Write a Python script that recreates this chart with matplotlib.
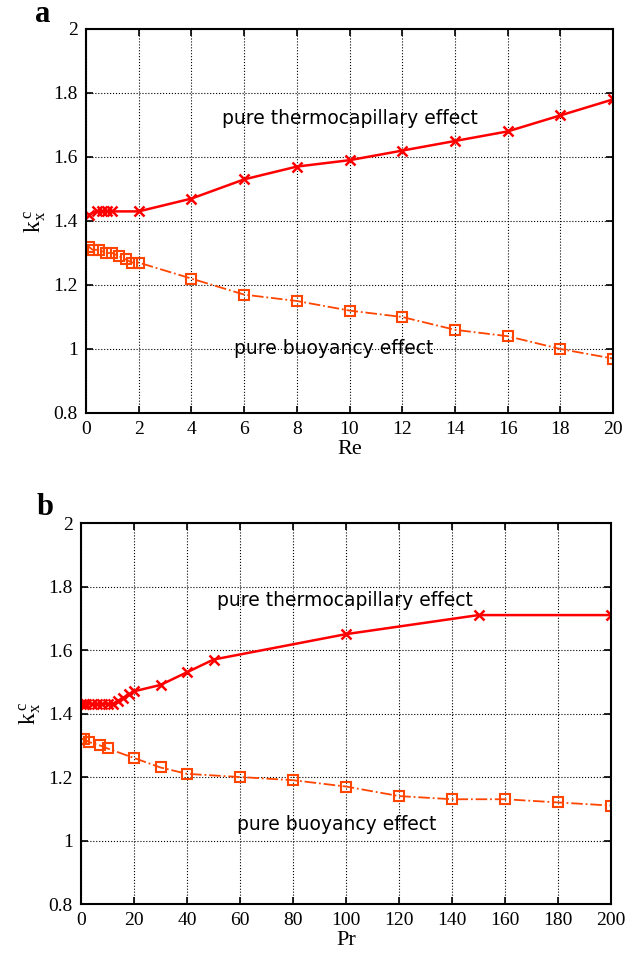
import numpy as np
import matplotlib.pyplot as plt

# panel a: wavenumber vs Re
re_thermo = [0.1, 0.4, 0.6, 0.8, 1.0, 2, 4, 6, 8, 10, 12, 14, 16, 18, 20]
k_thermo_re = [1.42, 1.43, 1.43, 1.43, 1.43, 1.43, 1.47, 1.53, 1.57, 1.59, 1.62, 1.65, 1.68, 1.73, 1.78]
re_buoy = [0.1, 0.25, 0.5, 0.75, 1.0, 1.25, 1.5, 1.75, 2.0, 4, 6, 8, 10, 12, 14, 16, 18, 20]
k_buoy_re = [1.32, 1.31, 1.31, 1.30, 1.30, 1.29, 1.28, 1.27, 1.27, 1.22, 1.17, 1.15, 1.12, 1.10, 1.06, 1.04, 1.00, 0.97]

# panel b: wavenumber vs Pr
pr_thermo = [0.1, 1, 2, 4, 6, 8, 10, 12, 14, 16, 18, 20, 30, 40, 50, 100, 150, 200]
k_thermo_pr = [1.43, 1.43, 1.43, 1.43, 1.43, 1.43, 1.43, 1.43, 1.44, 1.45, 1.46, 1.47, 1.49, 1.53, 1.57, 1.65, 1.71, 1.71]
pr_buoy = [0.1, 1, 3, 7, 10, 20, 30, 40, 60, 80, 100, 120, 140, 160, 180, 200]
k_buoy_pr = [1.32, 1.32, 1.31, 1.30, 1.29, 1.26, 1.23, 1.21, 1.20, 1.19, 1.17, 1.14, 1.13, 1.13, 1.12, 1.11]

red = '#ff0000'
orange = '#ff4500'
serif = 'Liberation Serif'

fig = plt.figure(figsize=(6.44, 9.6), dpi=100)
ax1 = fig.add_axes([0.1335, 0.5698, 0.8185, 0.4])
ax2 = fig.add_axes([0.1258, 0.0583, 0.823, 0.3969])


def style(ax, xlim, xticks, xlabel):
    ax.set_xlim(*xlim)
    ax.set_ylim(0.8, 2.0)
    ax.set_xticks(xticks)
    ax.set_yticks([0.8, 1.0, 1.2, 1.4, 1.6, 1.8, 2.0])
    ax.set_yticklabels(['0.8', '1', '1.2', '1.4', '1.6', '1.8', '2'])
    ax.grid(True, color='black', linestyle=':', linewidth=0.8)
    ax.tick_params(direction='in', top=True, right=True, length=5, width=1.2,
                   labelsize=14, pad=6)
    for lab in ax.get_xticklabels() + ax.get_yticklabels():
        lab.set_family(serif)
    for sp in ax.spines.values():
        sp.set_linewidth(1.5)
    ax.set_xlabel(xlabel, fontsize=16, family=serif, labelpad=1)
    ax.set_ylabel(r'$\mathregular{k_x^{\,c}}$', fontsize=17, family=serif, labelpad=4)


ax1.plot(re_thermo, k_thermo_re, color=red, linestyle='-', linewidth=1.8,
         marker='x', markersize=7, markeredgewidth=1.8)
ax1.plot(re_buoy, k_buoy_re, color=orange, linestyle='-.', linewidth=1.3,
         marker='s', markersize=7.5, markerfacecolor='none', markeredgewidth=1.5)
ax1.text(10, 1.72, 'pure thermocapillary effect', fontsize=13.5, ha='center', va='center')
ax1.text(9.4, 1.003, 'pure buoyancy effect', fontsize=13.5, ha='center', va='center')
style(ax1, (0, 20), np.arange(0, 21, 2), 'Re')

ax2.plot(pr_thermo, k_thermo_pr, color=red, linestyle='-', linewidth=1.8,
         marker='x', markersize=7, markeredgewidth=1.8)
ax2.plot(pr_buoy, k_buoy_pr, color=orange, linestyle='-.', linewidth=1.3,
         marker='s', markersize=7.5, markerfacecolor='none', markeredgewidth=1.5)
ax2.text(99.6, 1.757, 'pure thermocapillary effect', fontsize=13.5, ha='center', va='center')
ax2.text(96.6, 1.049, 'pure buoyancy effect', fontsize=13.5, ha='center', va='center')
style(ax2, (0, 200), np.arange(0, 201, 20), 'Pr')

# panel letters
fig.text(43 / 644, 1 - 22 / 960, 'a', fontsize=22, fontweight='bold', family=serif,
         ha='center', va='baseline')
fig.text(45 / 644, 1 - 515 / 960, 'b', fontsize=22, fontweight='bold', family=serif,
         ha='center', va='baseline')

fig.savefig('out.png', dpi=100)
